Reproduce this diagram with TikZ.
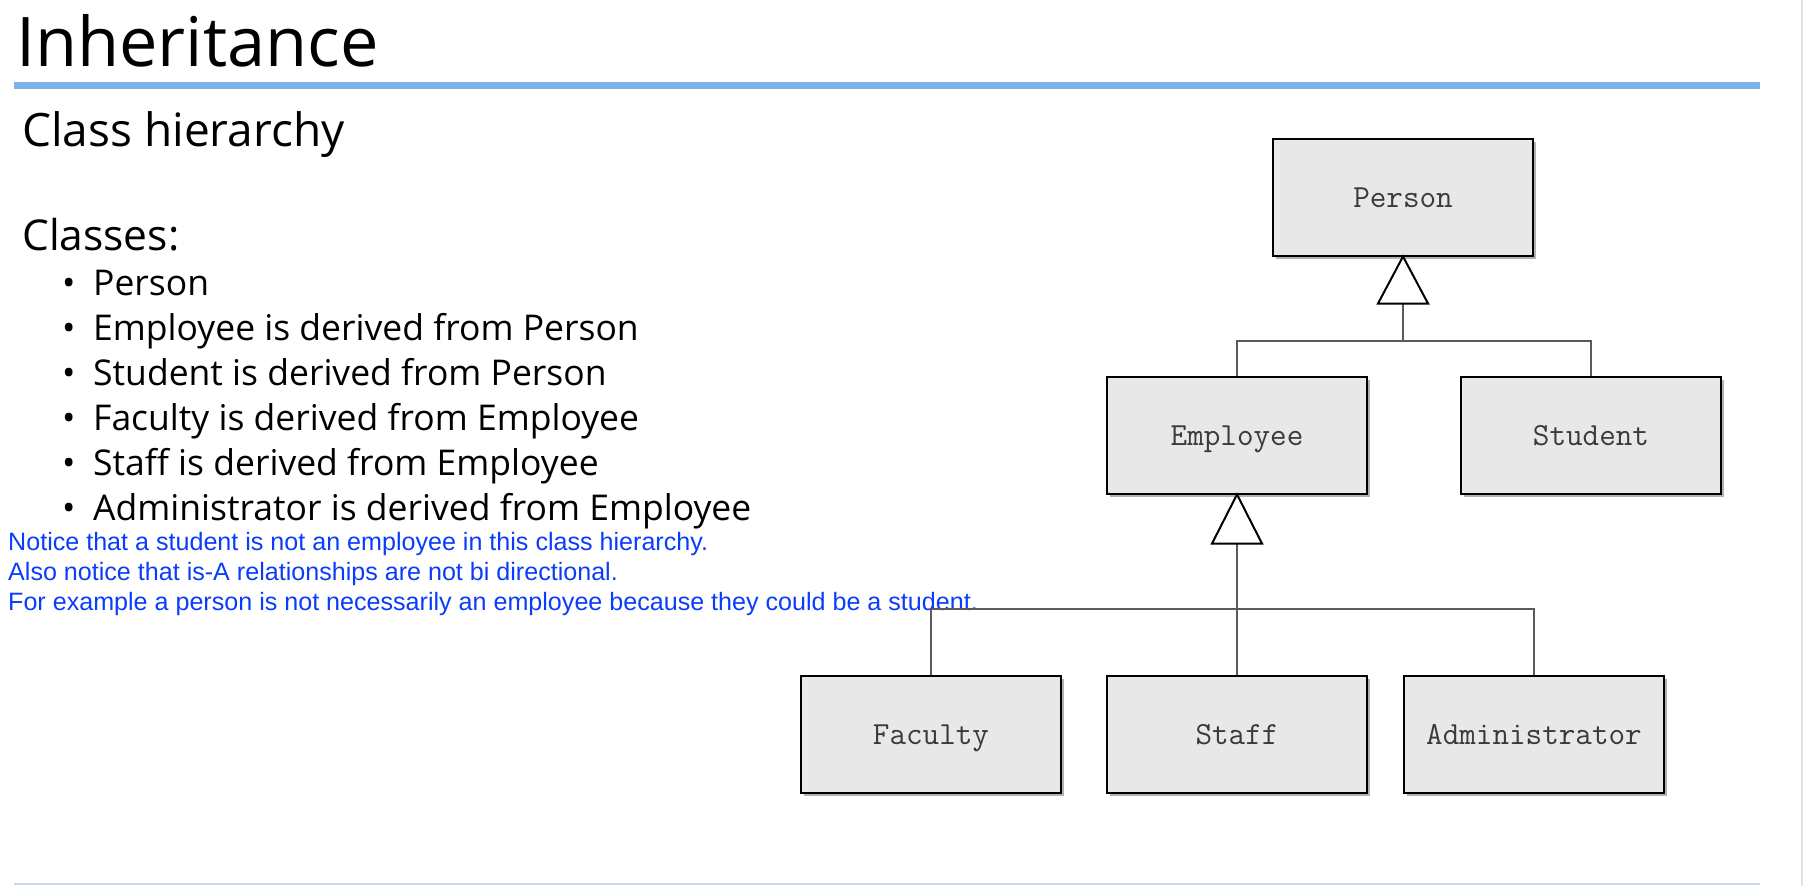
\documentclass[tikz,border=0pt]{standalone}
\usepackage{fontspec}
\setmainfont{Open Sans}
\newfontfamily\notefont{Liberation Sans}
\usetikzlibrary{shadows}
\definecolor{ruleblue}{HTML}{7DB3EC}
\definecolor{footrule}{HTML}{CBD8EA}
\definecolor{edgegray}{HTML}{E2E2E2}
\definecolor{boxfill}{HTML}{E8E8E8}
\definecolor{clstext}{HTML}{3A3A3A}
\definecolor{linkgray}{HTML}{5A5A5A}
\definecolor{noteblue}{HTML}{0A3CFA}
\begin{document}
\begin{tikzpicture}[x=1pt,y=-1pt,
  cls/.style={draw=black, line width=2pt, fill=boxfill,
    minimum width=260pt, minimum height=117pt, inner sep=0pt,
    text height=22pt, text depth=1pt,
    font=\ttfamily\fontsize{32.2}{34}\selectfont, text=clstext,
    drop shadow={shadow xshift=3pt, shadow yshift=-3pt, opacity=0.3, fill=black}},
  link/.style={draw=linkgray, line width=1.5pt},
  isa/.style={draw=black, line width=2pt, fill=white, line join=miter},
  txt/.style={anchor=base west, inner sep=0pt},
  item/.style={txt, font=\fontsize{35.5}{40}\selectfont},
  note/.style={txt, font=\notefont\fontsize{25.1}{28}\selectfont, text=noteblue},
]
\useasboundingbox (0,0) rectangle (1804,886);

% page furniture
\draw[edgegray, line width=2pt] (1802,0) -- (1802,886);
\draw[ruleblue, line width=7pt] (14,85) -- (1760,85);
\draw[footrule, line width=2pt] (14,884) -- (1760,884);

% headings and list
\node[txt, font=\fontsize{68.5}{80}\selectfont] (title) at (16,66) {Inheritance};
\node[txt, font=\fontsize{46}{50}\selectfont] (sub) at (22,146) {Class hierarchy};
\node[txt, font=\fontsize{42.5}{50}\selectfont] (classes) at (22,250) {Classes:};
\node[item] (i1) at (62,295) {\makebox[31pt][l]{•}Person};
\node[item] (i2) at (62,340) {\makebox[31pt][l]{•}Employee is derived from Person};
\node[item] (i3) at (62,385) {\makebox[31pt][l]{•}Student is derived from Person};
\node[item] (i4) at (62,430) {\makebox[31pt][l]{•}Faculty is derived from Employee};
\node[item] (i5) at (62,475) {\makebox[31pt][l]{•}Staff is derived from Employee};
\node[item] (i6) at (62,520) {\makebox[31pt][l]{•}Administrator\ is derived from Employee};

% notes
\node[note] (n1) at (8,550) {Notice that a student is not an employee in this class hierarchy.};
\node[note] (n2) at (8,580) {Also notice that is-A relationships are not bi directional.};
\node[note] (n3) at (8,610) {For example a person is not necessarily an employee because they could be a student.};

% class boxes
\node[cls] (person)   at (1403,197) {Person};
\node[cls] (employee) at (1237,435) {Employee};
\node[cls] (student)  at (1591,435) {Student};
\node[cls] (faculty)  at (931,734)  {Faculty};
\node[cls] (staff)    at (1237,734) {Staff};
\node[cls] (admin)    at (1534,734) {Administrator};

% bus levels and triangle bases
\coordinate (bar1) at (0,341);
\coordinate (bar2) at (0,609);
\coordinate (pb) at ([yshift=-47pt]person.south);
\coordinate (eb) at ([yshift=-49pt]employee.south);

% connectors
\draw[link] (pb) -- (pb |- bar1);
\draw[link] (employee.north) -- (employee.north |- bar1) -- (student.north |- bar1) -- (student.north);
\draw[link] (eb) -- (staff.north);
\draw[link] (faculty.north) -- (faculty.north |- bar2) -- (admin.north |- bar2) -- (admin.north);

% generalization triangles
\draw[isa] (person.south) -- ++(-25,47) -- ++(50,0) -- cycle;
\draw[isa] (employee.south) -- ++(-25,49) -- ++(50,0) -- cycle;
\end{tikzpicture}
\end{document}
